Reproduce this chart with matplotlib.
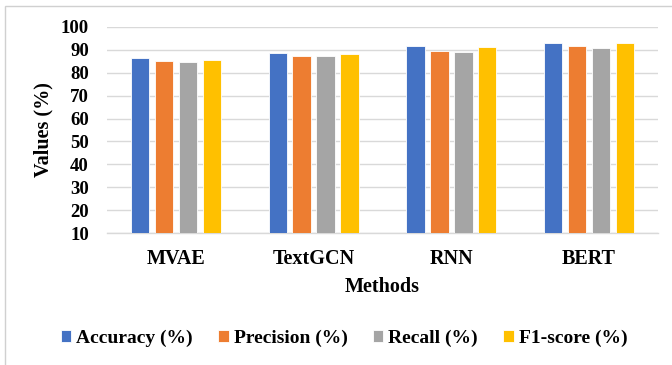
import numpy as np
import matplotlib
matplotlib.use('Agg')
import matplotlib.pyplot as plt
from matplotlib.patches import Rectangle

# Data
methods = ['MVAE', 'TextGCN', 'RNN', 'BERT']
accuracy = [86.2, 88.7, 91.4, 93.0]
precision = [85.2, 87.1, 89.4, 91.4]
recall = [84.6, 87.1, 89.0, 90.6]
f1_score = [85.5, 88.0, 91.0, 93.0]
series_names = ['Accuracy (%)', 'Precision (%)', 'Recall (%)', 'F1-score (%)']
yticks = [10, 20, 30, 40, 50, 60, 70, 80, 90, 100]

colors = ['#4472C4', '#ED7D31', '#A5A5A5', '#FFC000']

plt.rcParams.update({
    'font.family': 'serif',
    'font.serif': ['Liberation Serif', 'DejaVu Serif'],
    'font.weight': 'bold',
})

fig = plt.figure(figsize=(6.72, 3.65), dpi=100)
ax = fig.add_axes([107 / 672, 1 - 233.3 / 365, (658 - 107) / 672, (233.3 - 26.7) / 365])

x = np.arange(len(methods))
width = 0.133
step = 0.174
series = [accuracy, precision, recall, f1_score]
for i, (vals, name, c) in enumerate(zip(series, series_names, colors)):
    ax.bar(x + (i - 1.5) * step, np.array(vals) - 10, width, bottom=10,
           color=c, edgecolor='white', linewidth=0.6, label=name, zorder=3)

ax.set_xlim(-0.5, len(methods) - 0.5)
ax.set_ylim(10, 100)
ax.set_yticks(yticks)
ax.set_xticks(x)
ax.set_xticklabels(methods, fontsize=14.5, fontweight='bold')
ax.tick_params(axis='y', labelsize=13.5, length=0, pad=13)
ax.tick_params(axis='x', length=0, pad=11)
ax.grid(axis='y', color='#D9D9D9', linewidth=1, zorder=0)
for s in ['top', 'right', 'left']:
    ax.spines[s].set_visible(False)
ax.spines['bottom'].set_color('#D9D9D9')
ax.spines['bottom'].set_linewidth(1)

ax.set_ylabel('Values (%)', fontsize=14.5, fontweight='bold')
ax.yaxis.set_label_coords(-0.097, 0.5)
ax.set_xlabel('Methods', fontsize=14.5, fontweight='bold')
ax.xaxis.set_label_coords(0.5, -0.213)

leg = fig.legend(loc='center', bbox_to_anchor=(344 / 672, 1 - 338 / 365), ncol=4,
                 frameon=False, prop={'size': 14, 'weight': 'bold'},
                 handlelength=0.55, handleheight=0.55, handletextpad=0.25,
                 columnspacing=1.3)

# frame border of the original screenshot (left and top)
fig.patches.append(Rectangle((5 / 672, -0.1), 2, 1.1 - 6 / 365,
                             transform=fig.transFigure, fill=False,
                             edgecolor='#D0D0D0', linewidth=1))

fig.savefig('out.png', dpi=100)
